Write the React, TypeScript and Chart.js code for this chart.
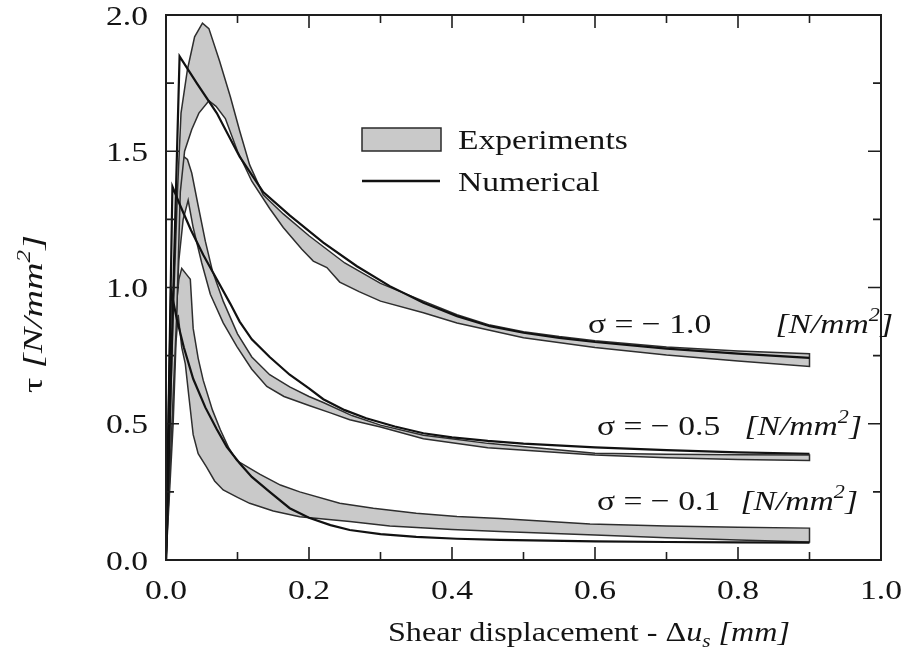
import React, { useEffect, useRef } from "react";
import { Chart, registerables } from "chart.js";

Chart.register(...registerables);

// ---------- data (x = shear displacement [mm], y = tau [N/mm2]) ----------
const num10: [number, number][] = [
  [0, 0], [0.019, 1.848], [0.043, 1.75], [0.071, 1.64], [0.103, 1.48], [0.136, 1.35],
  [0.173, 1.265], [0.22, 1.165], [0.267, 1.078], [0.313, 1.005], [0.36, 0.944],
  [0.407, 0.895], [0.453, 0.858], [0.5, 0.834], [0.55, 0.815], [0.6, 0.8],
  [0.7, 0.776], [0.8, 0.757], [0.9, 0.742],
];
const exp10Upper: [number, number][] = [
  [0, 0], [0.01, 0.9], [0.016, 1.35], [0.021, 1.64], [0.03, 1.8], [0.04, 1.92],
  [0.051, 1.97], [0.06, 1.95], [0.075, 1.83], [0.09, 1.7], [0.103, 1.575],
  [0.117, 1.45], [0.136, 1.34], [0.164, 1.27], [0.2, 1.19], [0.25, 1.09],
  [0.3, 1.015], [0.36, 0.95], [0.407, 0.9], [0.453, 0.862], [0.5, 0.838],
  [0.55, 0.82], [0.6, 0.805], [0.7, 0.782], [0.8, 0.767], [0.9, 0.757],
];
const exp10Lower: [number, number][] = [
  [0, 0], [0.015, 0.9], [0.02, 1.35], [0.026, 1.5], [0.036, 1.58], [0.046, 1.64],
  [0.06, 1.685], [0.07, 1.665], [0.083, 1.62], [0.1, 1.5], [0.12, 1.39],
  [0.145, 1.29], [0.164, 1.22], [0.19, 1.14], [0.206, 1.097], [0.225, 1.073],
  [0.243, 1.02], [0.27, 0.985], [0.3, 0.95], [0.36, 0.907], [0.407, 0.87],
  [0.5, 0.816], [0.6, 0.78], [0.7, 0.752], [0.8, 0.73], [0.9, 0.71],
];

const num05: [number, number][] = [
  [0, 0], [0.009, 1.37], [0.02, 1.3], [0.035, 1.21], [0.052, 1.12], [0.071, 1.03],
  [0.09, 0.94], [0.103, 0.875], [0.12, 0.81], [0.145, 0.745], [0.173, 0.68],
  [0.2, 0.63], [0.22, 0.59], [0.25, 0.55], [0.28, 0.52], [0.32, 0.49],
  [0.36, 0.465], [0.4, 0.45], [0.45, 0.437], [0.5, 0.427], [0.6, 0.413],
  [0.7, 0.403], [0.8, 0.395], [0.9, 0.39],
];
const exp05Upper: [number, number][] = [
  [0, 0], [0.008, 0.55], [0.014, 1.1], [0.019, 1.4], [0.025, 1.48], [0.03, 1.47],
  [0.036, 1.42], [0.045, 1.3], [0.055, 1.17], [0.065, 1.06], [0.08, 0.95],
  [0.1, 0.83], [0.12, 0.745], [0.145, 0.68], [0.173, 0.635], [0.2, 0.6],
  [0.22, 0.578], [0.26, 0.53], [0.3, 0.495], [0.36, 0.458], [0.45, 0.428],
  [0.6, 0.392], [0.7, 0.388], [0.8, 0.386], [0.9, 0.385],
];
const exp05Lower: [number, number][] = [
  [0, 0], [0.012, 0.75], [0.018, 1.1], [0.024, 1.25], [0.031, 1.32], [0.038, 1.22],
  [0.05, 1.09], [0.062, 0.975], [0.08, 0.87], [0.099, 0.784], [0.12, 0.7],
  [0.141, 0.637], [0.165, 0.6], [0.2, 0.567], [0.23, 0.54], [0.257, 0.515],
  [0.3, 0.488], [0.36, 0.445], [0.45, 0.412], [0.6, 0.385], [0.7, 0.375],
  [0.8, 0.369], [0.9, 0.365],
];

const num01: [number, number][] = [
  [0, 0], [0.007, 0.99], [0.015, 0.885], [0.025, 0.78], [0.038, 0.665],
  [0.055, 0.56], [0.071, 0.48], [0.085, 0.415], [0.103, 0.355], [0.12, 0.305],
  [0.145, 0.25], [0.173, 0.19], [0.2, 0.155], [0.23, 0.128], [0.257, 0.11],
  [0.3, 0.095], [0.35, 0.085], [0.407, 0.078], [0.467, 0.074], [0.6, 0.068],
  [0.7, 0.066], [0.8, 0.065], [0.9, 0.064],
];
const exp01Upper: [number, number][] = [
  [0, 0], [0.008, 0.6], [0.013, 0.9], [0.018, 1.03], [0.022, 1.07], [0.028, 1.05],
  [0.034, 1.03], [0.038, 0.85], [0.045, 0.74], [0.052, 0.66], [0.065, 0.55],
  [0.076, 0.478], [0.088, 0.41], [0.099, 0.365], [0.115, 0.34], [0.131, 0.315],
  [0.16, 0.275], [0.187, 0.25], [0.243, 0.208], [0.29, 0.19], [0.35, 0.172],
  [0.407, 0.16], [0.467, 0.152], [0.593, 0.132], [0.7, 0.125], [0.8, 0.12],
  [0.9, 0.117],
];
const exp01Lower: [number, number][] = [
  [0, 0], [0.01, 0.5], [0.014, 0.8], [0.017, 0.9], [0.022, 0.78], [0.027, 0.72],
  [0.032, 0.6], [0.038, 0.46], [0.045, 0.39], [0.057, 0.34], [0.068, 0.29],
  [0.08, 0.257], [0.1, 0.23], [0.117, 0.208], [0.15, 0.18], [0.187, 0.159],
  [0.257, 0.141], [0.313, 0.125], [0.4, 0.112], [0.467, 0.105], [0.6, 0.092],
  [0.7, 0.082], [0.8, 0.073], [0.9, 0.066],
];

const xMajorTicks = [0, 0.2, 0.4, 0.6, 0.8, 1.0];
const xTickLabels = ["0.0", "0.2", "0.4", "0.6", "0.8", "1.0"];
const xMinorTicks = [0.1, 0.3, 0.5, 0.7, 0.9];
const yMajorTicks = [0, 0.5, 1.0, 1.5, 2.0];
const yTickLabels = ["0.0", "0.5", "1.0", "1.5", "2.0"];
const yMinorTicks = [0.25, 0.75, 1.25, 1.75];

const sigmaValues = ["1.0", "0.5", "0.1"];
const legendLabels = ["Experiments", "Numerical"];

// ---------- drawing helpers ----------
const FONT = '"Liberation Serif", "Times New Roman", serif';
type Run = { t: string; it?: boolean; sup?: boolean; sub?: boolean };

function fontFor(size: number, r: Run) {
  const s = r.sup || r.sub ? size * 0.66 : size;
  return `${r.it ? "italic " : ""}${s}px ${FONT}`;
}
function runsWidth(ctx: CanvasRenderingContext2D, runs: Run[], size: number) {
  let w = 0;
  for (const r of runs) {
    ctx.font = fontFor(size, r);
    w += ctx.measureText(r.t).width;
  }
  return w;
}
function drawRuns(
  ctx: CanvasRenderingContext2D,
  runs: Run[],
  x: number,
  y: number,
  size: number,
  sx: number,
  align: "left" | "right" | "center" = "left",
  rotate = 0
) {
  ctx.save();
  ctx.translate(x, y);
  if (rotate) ctx.rotate(rotate);
  ctx.scale(sx, 1);
  const w = runsWidth(ctx, runs, size);
  let cx = align === "left" ? 0 : align === "right" ? -w : -w / 2;
  ctx.textBaseline = "alphabetic";
  ctx.textAlign = "left";
  ctx.fillStyle = "#141414";
  for (const r of runs) {
    ctx.font = fontFor(size, r);
    const dy = r.sup ? -size * 0.42 : r.sub ? size * 0.22 : 0;
    ctx.fillText(r.t, cx, dy);
    cx += ctx.measureText(r.t).width;
  }
  ctx.restore();
}

const SX = 1.2;
const FS = 28;

const decorPlugin = {
  id: "decor",
  afterDatasetsDraw(chart: any) {
    const ctx: CanvasRenderingContext2D = chart.ctx;
    const { left, right, top, bottom } = chart.chartArea;
    const xs = chart.scales.x;
    const ys = chart.scales.y;
    ctx.save();
    ctx.strokeStyle = "#1e1e1e";
    ctx.lineWidth = 2;
    ctx.strokeRect(left, top, right - left, bottom - top);
    ctx.lineWidth = 1.6;
    ctx.beginPath();
    const tick = (vals: number[], len: number) => {
      for (const v of vals) {
        const px = xs.getPixelForValue(v);
        ctx.moveTo(px, bottom);
        ctx.lineTo(px, bottom - len);
        ctx.moveTo(px, top);
        ctx.lineTo(px, top + len);
      }
    };
    const ytick = (vals: number[], len: number) => {
      for (const v of vals) {
        const py = ys.getPixelForValue(v);
        ctx.moveTo(left, py);
        ctx.lineTo(left + len, py);
        ctx.moveTo(right, py);
        ctx.lineTo(right - len, py);
      }
    };
    tick(xMajorTicks, 13);
    tick(xMinorTicks, 8);
    ytick(yMajorTicks, 13);
    ytick(yMinorTicks, 8);
    ctx.stroke();
    ctx.restore();
  },
  afterDraw(chart: any) {
    const ctx: CanvasRenderingContext2D = chart.ctx;
    const { left, right, top, bottom } = chart.chartArea;
    const xs = chart.scales.x;
    const ys = chart.scales.y;

    // tick labels
    xMajorTicks.forEach((v, i) => {
      drawRuns(ctx, [{ t: xTickLabels[i] }], xs.getPixelForValue(v), bottom + 39, FS, SX, "center");
    });
    yMajorTicks.forEach((v, i) => {
      drawRuns(ctx, [{ t: yTickLabels[i] }], left - 18, ys.getPixelForValue(v) + 9.5, FS, SX, "right");
    });

    // axis titles
    const xTitle: Run[] = [
      { t: "Shear displacement - " },
      { t: "\u0394" },
      { t: "u", it: true },
      { t: "s", it: true, sub: true },
      { t: " [mm]", it: true },
    ];
    const xw = runsWidth(ctx, xTitle, FS);
    drawRuns(ctx, xTitle, 589, bottom + 81, FS, 402 / xw, "center");

    const yTitle: Run[] = [
      { t: "\u03c4 " },
      { t: "[N/mm", it: true },
      { t: "2", it: true, sup: true },
      { t: "]", it: true },
    ];
    const yw = runsWidth(ctx, yTitle, FS);
    drawRuns(ctx, yTitle, 42, 314, FS, 158 / yw, "center", -Math.PI / 2);

    // legend
    ctx.save();
    const bx = left + 196;
    const by = top + 113;
    ctx.fillStyle = "#c9c9c9";
    ctx.fillRect(bx, by, 79, 23);
    ctx.strokeStyle = "#2a2a2a";
    ctx.lineWidth = 1.5;
    ctx.strokeRect(bx, by, 79, 23);
    ctx.strokeStyle = "#111";
    ctx.lineWidth = 2.5;
    ctx.beginPath();
    ctx.moveTo(bx, by + 53);
    ctx.lineTo(bx + 78, by + 53);
    ctx.stroke();
    ctx.restore();
    drawRuns(ctx, [{ t: legendLabels[0] }], bx + 96, by + 21, FS, SX, "left");
    drawRuns(ctx, [{ t: legendLabels[1] }], bx + 96, by + 63, FS, SX, "left");

    // sigma labels
    const sigPos = [
      { l: 588, r: 893, b: 333 },
      { l: 597, r: 862, b: 435 },
      { l: 597, r: 858, b: 510 },
    ];
    sigmaValues.forEach((s, i) => {
      const p = sigPos[i];
      drawRuns(ctx, [{ t: "\u03c3 = \u2212 " + s }], p.l, p.b, FS, SX, "left");
      drawRuns(
        ctx,
        [{ t: "[N/mm", it: true }, { t: "2", it: true, sup: true }, { t: "]", it: true }],
        p.r,
        p.b,
        FS,
        SX,
        "right"
      );
    });
  },
};

const toPts = (a: [number, number][]) => a.map(([x, y]) => ({ x, y }));
const band = (u: [number, number][], l: [number, number][]) =>
  toPts([...u, ...l.slice().reverse()]);

export default function App() {
  const ref = useRef<HTMLCanvasElement | null>(null);
  useEffect(() => {
    if (!ref.current) return;
    const numStyle = {
      borderColor: "#111",
      borderWidth: 2.2,
      fill: false,
      pointRadius: 0,
      tension: 0,
    };
    const bandStyle = {
      borderColor: "#2e2e2e",
      borderWidth: 1.5,
      backgroundColor: "#c9c9c9",
      fill: "shape",
      pointRadius: 0,
      tension: 0,
    };
    const chart = new Chart(ref.current, {
      type: "line",
      data: {
        datasets: [
          { label: "Numerical -1.0", data: toPts(num10), ...numStyle },
          { label: "Numerical -0.5", data: toPts(num05), ...numStyle },
          { label: "Numerical -0.1", data: toPts(num01), ...numStyle },
          { label: "Experiments -1.0", data: band(exp10Upper, exp10Lower), ...bandStyle },
          { label: "Experiments -0.5", data: band(exp05Upper, exp05Lower), ...bandStyle },
          { label: "Experiments -0.1", data: band(exp01Upper, exp01Lower), ...bandStyle },
        ] as any,
      },
      options: {
        responsive: false,
        animation: false,
        parsing: true,
        layout: { padding: { left: 166, right: 26, top: 15, bottom: 103 } },
        scales: {
          x: { type: "linear", min: 0, max: 1, display: false },
          y: { type: "linear", min: 0, max: 2, display: false },
        },
        plugins: { legend: { display: false }, tooltip: { enabled: false } },
      } as any,
      plugins: [decorPlugin],
    });
    return () => chart.destroy();
  }, []);
  return (
    <div style={{ position: "absolute", left: 0, top: 0, width: 907, height: 663, background: "#fff" }}>
      <canvas ref={ref} width={907} height={663} style={{ display: "block" }} />
    </div>
  );
}
